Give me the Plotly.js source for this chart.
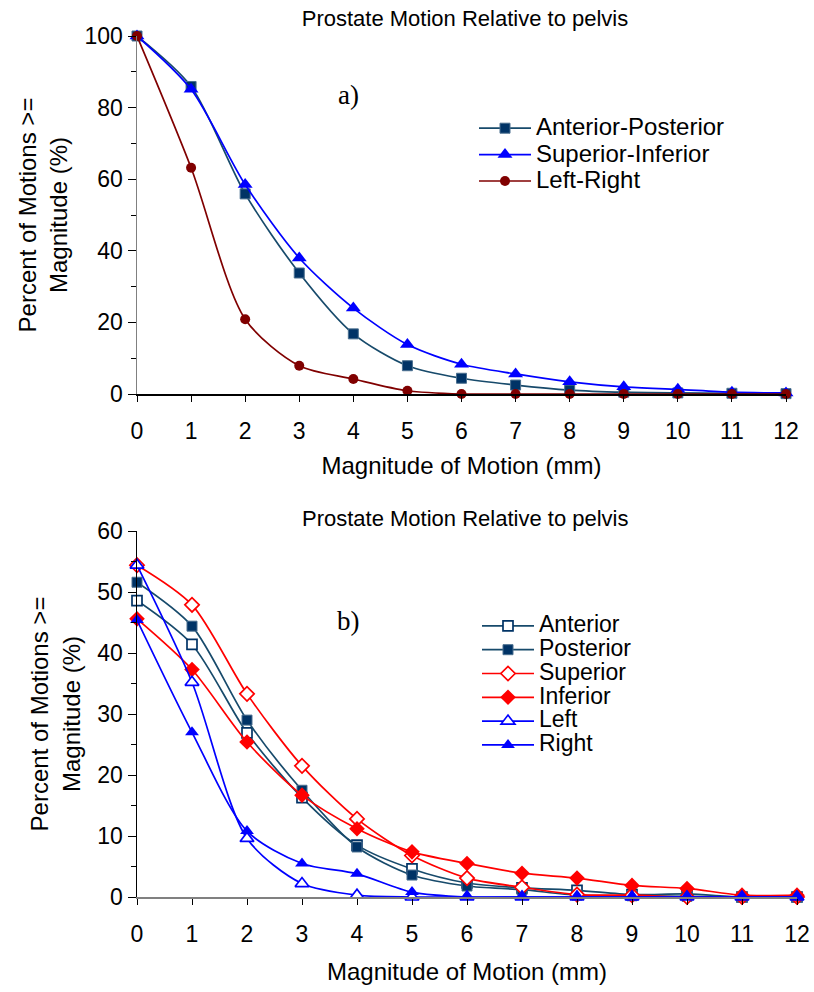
<!DOCTYPE html>
<html>
<head>
<meta charset="utf-8">
<script src="https://cdn.plot.ly/plotly-3.0.1.min.js"></script>
<style>
  html, body { margin: 0; padding: 0; background: #ffffff; }
  #chart { width: 814px; height: 992px; }
</style>
</head>
<body>
<div id="chart"></div>
<script>
// ---- Data ----
const magnitudes = [0, 1, 2, 3, 4, 5, 6, 7, 8, 9, 10, 11, 12];

// Panel a) Prostate motion relative to pelvis (%)
const anteriorPosterior = [100, 85.9, 55.9, 33.8, 16.8, 7.9, 4.4, 2.5, 1.1, 0.5, 0.3, 0.2, 0.1];
const superiorInferior  = [100, 85.1, 58.5, 38.0, 24.0, 13.8, 8.3, 5.6, 3.4, 2.0, 1.3, 0.5, 0.3];
const leftRight         = [100, 63.2, 20.9, 7.9, 4.2, 0.9, 0, 0, 0, 0, 0, 0, 0];

// Panel b) directional motion (%)
const anterior  = [48.6, 41.4, 26.9, 16.3, 8.5, 4.6, 2.3, 1.5, 1.1, 0.4, 0.5, 0, 0];
const posterior = [51.6, 44.4, 29.0, 17.5, 8.2, 3.6, 1.8, 1.2, 0.3, 0.2, 0.1, 0, 0];
const superior  = [54.4, 47.9, 33.3, 21.5, 12.8, 6.8, 3.1, 1.6, 0.4, 0.3, 0, 0, 0];
const inferior  = [45.6, 37.3, 25.4, 16.7, 11.2, 7.4, 5.5, 3.9, 3.1, 1.9, 1.4, 0.3, 0.3];
const left      = [54.4, 35.2, 9.6, 2.2, 0.3, 0, 0, 0, 0, 0, 0, 0, 0];
const right     = [45.4, 27.0, 10.8, 5.5, 3.8, 0.8, 0, 0, 0, 0, 0, 0, 0];

const tickLabels = magnitudes.map(String);

// ---- Styling ----
const NAVY = '#003366';
const NAVY_LINE = '#174a6b';
const BLUE = '#0000FF';
const MAROON = '#800000';
const RED = '#FF0000';
const FONT = 'Liberation Sans, Arial, sans-serif';
const W = 814, H = 992;

function label(text, px) {
  return '<span style="font-size:' + px + 'px">' + text + '</span>';
}

function trace(name, y, color, lineColor, symbol, filled, size, xa, ya, legend, legendPx) {
  return {
    type: 'scatter', mode: 'lines+markers', name: label(name, legendPx),
    x: magnitudes, y: y, xaxis: xa, yaxis: ya, legend: legend,
    cliponaxis: false,
    line: { color: lineColor, width: 1.7, shape: 'spline', smoothing: 0.8 },
    marker: {
      symbol: symbol, size: size,
      color: filled ? color : '#ffffff',
      line: { color: filled ? (symbol === 'square' ? '#4a6f8f' : color) : color,
              width: filled ? (symbol === 'square' ? 1 : 0) : 1.7 }
    }
  };
}

const traces = [
  trace('Anterior-Posterior', anteriorPosterior, NAVY, NAVY_LINE, 'square', true, 10, 'x', 'y', 'legend', 24),
  trace('Superior-Inferior', superiorInferior, BLUE, BLUE, 'triangle-up', true, 13, 'x', 'y', 'legend', 24),
  trace('Left-Right', leftRight, MAROON, MAROON, 'circle', true, 10, 'x', 'y', 'legend', 24),
  trace('Anterior', anterior, NAVY, NAVY_LINE, 'square', false, 10, 'x2', 'y2', 'legend2', 23),
  trace('Posterior', posterior, NAVY, NAVY_LINE, 'square', true, 10, 'x2', 'y2', 'legend2', 23),
  trace('Superior', superior, RED, RED, 'diamond', false, 11, 'x2', 'y2', 'legend2', 23),
  trace('Inferior', inferior, RED, RED, 'diamond', true, 12, 'x2', 'y2', 'legend2', 23),
  trace('Left', left, BLUE, BLUE, 'triangle-up', false, 12, 'x2', 'y2', 'legend2', 23),
  trace('Right', right, BLUE, BLUE, 'triangle-up', true, 12, 'x2', 'y2', 'legend2', 23)
];

const tickFont = { family: FONT, size: 23, color: '#000000' };
const titleFont = { family: FONT, size: 24, color: '#000000' };

function xaxis(domain, lineColor, standoff) {
  return {
    domain: domain, range: [0, 12], tickmode: 'array', tickvals: magnitudes, ticktext: tickLabels,
    ticks: 'outside', ticklen: 6, tickcolor: '#000000', tickwidth: 1,
    ticklabelstandoff: 10,
    showline: true, linecolor: lineColor, linewidth: 1.5,
    showgrid: false, zeroline: false, tickfont: tickFont,
    title: { text: 'Magnitude of Motion (mm)', font: titleFont, standoff: standoff },
    fixedrange: true
  };
}
function yaxis(domain, maxV, dtick, lineColor, anchor) {
  return {
    domain: domain, anchor: anchor, range: [0, maxV], dtick: dtick, tick0: 0,
    ticks: 'outside', ticklen: 8, tickcolor: '#000000', tickwidth: 1,
    minor: { dtick: dtick / 2, ticks: 'outside', ticklen: 5, tickcolor: '#000000', tickwidth: 1 },
    showline: true, linecolor: lineColor, linewidth: 1.5,
    showgrid: false, zeroline: false, tickfont: tickFont,
    title: { text: 'Percent of Motions >=<br>Magnitude (%)', font: titleFont, standoff: 10 },
    fixedrange: true
  };
}

const layout = {
  width: W, height: H,
  margin: { l: 0, r: 0, t: 0, b: 0 },
  paper_bgcolor: '#ffffff', plot_bgcolor: '#ffffff',
  font: { family: FONT, color: '#000000' },
  showlegend: true,
  title: {
    text: 'Prostate Motion Relative to pelvis',
    font: { family: FONT, size: 22, color: '#000000' },
    x: 465 / W, xanchor: 'center', xref: 'paper',
    y: 1 - 18 / H, yanchor: 'middle', yref: 'paper'
  },
  xaxis: Object.assign(xaxis([137 / W, 786 / W], '#000000', 14), { anchor: 'y' }),
  yaxis: yaxis([1 - 394 / H, 1 - 36 / H], 100, 20, '#808080', 'x'),
  xaxis2: Object.assign(xaxis([137 / W, 797 / W], '#808080', 17), { anchor: 'y2' }),
  yaxis2: yaxis([1 - 897 / H, 1 - 531 / H], 60, 10, '#000000', 'x2'),
  legend: {
    x: 474 / W, y: 1 - 110 / H, xanchor: 'left', yanchor: 'top',
    bgcolor: 'rgba(0,0,0,0)', borderwidth: 0, itemwidth: 52,
    font: { family: FONT, size: 18, color: '#000000' }, tracegroupgap: 0
  },
  legend2: {
    x: 477 / W, y: 1 - 609 / H, xanchor: 'left', yanchor: 'top',
    bgcolor: 'rgba(0,0,0,0)', borderwidth: 0, itemwidth: 52,
    font: { family: FONT, size: 16, color: '#000000' }, tracegroupgap: 0
  },
  annotations: [
    { text: 'Prostate Motion Relative to pelvis', xref: 'paper', yref: 'paper',
      x: 465 / W, y: 1 - 518 / H, xanchor: 'center', yanchor: 'middle', showarrow: false,
      font: { family: FONT, size: 22, color: '#000000' } },
    { text: 'a)', xref: 'x', yref: 'y', x: 3.91, y: 83.5, showarrow: false,
      font: { family: 'Liberation Serif, Times New Roman, serif', size: 27, color: '#000000' } },
    { text: 'b)', xref: 'x2', yref: 'y2', x: 3.85, y: 45.2, showarrow: false,
      font: { family: 'Liberation Serif, Times New Roman, serif', size: 27, color: '#000000' } }
  ]
};

Plotly.newPlot('chart', traces, layout, { displayModeBar: false, staticPlot: true });
</script>
</body>
</html>
